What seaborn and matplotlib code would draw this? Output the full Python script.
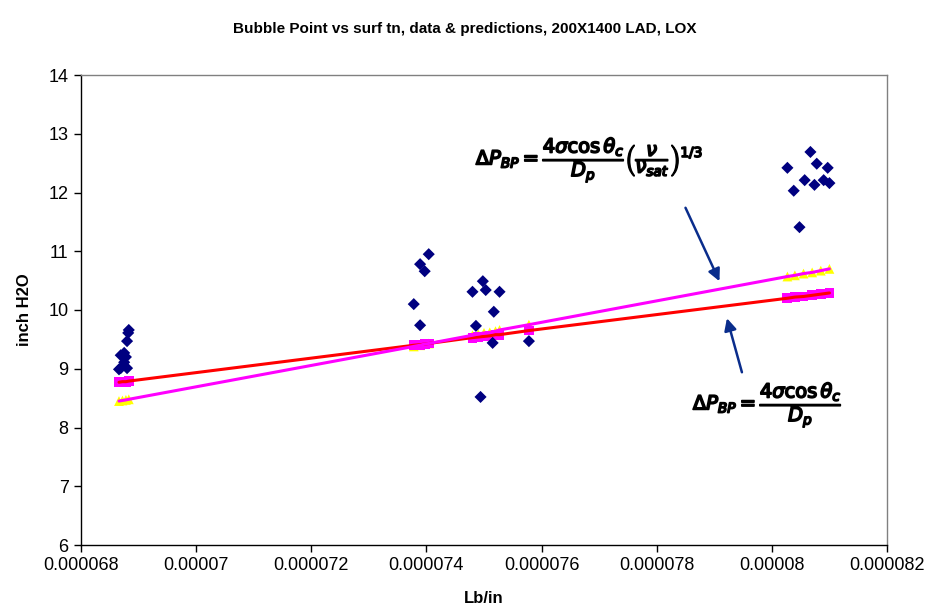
import matplotlib
matplotlib.use("Agg")
import matplotlib.pyplot as plt
import matplotlib.patheffects as pe
from matplotlib.ticker import FixedLocator, FixedFormatter
import seaborn as sns
import pandas as pd

sns.set_theme(style="white")
plt.rcParams['font.family'] = ['Liberation Sans', 'DejaVu Sans']
plt.rcParams['text.color'] = 'black'
plt.rcParams['axes.labelcolor'] = 'black'
plt.rcParams['xtick.color'] = 'black'
plt.rcParams['ytick.color'] = 'black'

# measured data (surface tension lb/in, bubble point inch H2O)
data_x = [0.00006883, 0.00006880, 0.00006875, 0.00006869, 0.00006878, 0.00006875,
          0.00006869, 0.00006880, 0.00006866, 0.00006882,
          0.00007404, 0.00007389, 0.00007397, 0.00007378, 0.00007389,
          0.00007498, 0.00007480, 0.00007503, 0.00007527, 0.00007517, 0.00007486,
          0.00007515, 0.00007578, 0.00007494,
          0.00008067, 0.00008027, 0.00008078, 0.00008097, 0.00008057, 0.00008074,
          0.00008090, 0.00008100, 0.00008038, 0.00008048]
data_y = [9.66, 9.47, 9.27, 9.23, 9.20, 9.11, 9.01, 9.01, 8.99, 9.61,
          10.95, 10.78, 10.66, 10.10, 9.74,
          10.49, 10.31, 10.34, 10.31, 9.97, 9.73, 9.44, 9.47, 8.52,
          12.69, 12.42, 12.49, 12.42, 12.21, 12.13, 12.21, 12.16, 12.03, 11.41]

# predictions
pred_x = [0.00006866, 0.00006872, 0.00006878, 0.00006883,
          0.00007378, 0.00007389, 0.00007397, 0.00007404,
          0.00007480, 0.00007490, 0.00007500, 0.00007510, 0.00007520, 0.00007527, 0.00007578,
          0.00008027, 0.00008040, 0.00008055, 0.00008070, 0.00008085, 0.00008100]
pred_simple = [8.77, 8.78, 8.78, 8.79,
               9.40, 9.41, 9.42, 9.43,
               9.53, 9.54, 9.55, 9.56, 9.58, 9.58, 9.65,
               10.20, 10.22, 10.23, 10.25, 10.27, 10.29]
pred_visc = [8.45, 8.46, 8.47, 8.48,
             9.38, 9.40, 9.42, 9.43,
             9.57, 9.59, 9.61, 9.62, 9.64, 9.66, 9.75,
             10.57, 10.59, 10.62, 10.64, 10.67, 10.70]

x_ticks = [0.000068, 0.000070, 0.000072, 0.000074, 0.000076, 0.000078, 0.000080, 0.000082]
x_tick_labels = ["0.000068", "0.00007", "0.000072", "0.000074", "0.000076", "0.000078",
                 "0.00008", "0.000082"]
y_ticks = [6, 7, 8, 9, 10, 11, 12, 13, 14]

df_data = pd.DataFrame({"x": data_x, "y": data_y})
df_pred = pd.DataFrame({"x": pred_x, "simple": pred_simple, "visc": pred_visc})

fig = plt.figure(figsize=(9.3, 6.13), dpi=100)
ax = fig.add_axes([81/930, 1-545/613, (887-81)/930, (545-75)/613])

# prediction markers
sns.scatterplot(data=df_pred, x="x", y="visc", marker="^", color="#FFFF00", s=50,
                edgecolor="none", ax=ax, zorder=2)
sns.scatterplot(data=df_pred, x="x", y="simple", marker="s", color="#FF00FF", s=50,
                edgecolor="none", ax=ax, zorder=2)
# prediction lines
sns.lineplot(data=df_pred, x="x", y="simple", color="#FF0000", lw=2.2, ax=ax,
             estimator=None, sort=True, zorder=3)
sns.lineplot(data=df_pred, x="x", y="visc", color="#FF00FF", lw=2.2, ax=ax,
             estimator=None, sort=True, zorder=3)
# data
sns.scatterplot(data=df_data, x="x", y="y", marker="D", color="#000080", s=38,
                edgecolor="none", ax=ax, zorder=4)

ax.set_xlim(0.000068, 0.000082)
ax.set_ylim(6, 14)
ax.xaxis.set_major_locator(FixedLocator(x_ticks))
ax.xaxis.set_major_formatter(FixedFormatter(x_tick_labels))
ax.yaxis.set_major_locator(FixedLocator(y_ticks))
ax.tick_params(axis="both", which="major", direction="out", length=5, width=1,
               color="black", labelsize=13, bottom=True, left=True, pad=4)
for s in ["left", "bottom"]:
    ax.spines[s].set_color("black")
    ax.spines[s].set_linewidth(1)
for s in ["top", "right"]:
    ax.spines[s].set_color("#808080")
    ax.spines[s].set_linewidth(1)

ax.set_xlabel("Lb/in", fontsize=12, fontweight="bold", labelpad=12)
ax.set_ylabel("inch H2O", fontsize=12, fontweight="bold", labelpad=12)
fig.suptitle("Bubble Point vs surf tn, data & predictions, 200X1400 LAD, LOX",
             fontsize=11, fontweight="bold", y=1-22/613)

bold = [pe.withStroke(linewidth=1.2, foreground="black")]
ax.text(0.00007684, 12.55,
        r"$\Delta P_{BP} = \dfrac{4\sigma \cos\theta_c}{D_p}\left(\dfrac{\nu}{\nu_{sat}}\right)^{1/3}$",
        fontsize=14, ha="center", va="center", color="black", path_effects=bold)
ax.text(0.00007993, 8.38,
        r"$\Delta P_{BP} = \dfrac{4\sigma \cos\theta_c}{D_p}$",
        fontsize=14, ha="center", va="center", color="black", path_effects=bold)

arrow_col = "#0A2D8C"
ax.annotate("", xy=(0.00007909, 10.49), xytext=(0.00007850, 11.74),
            arrowprops=dict(arrowstyle="-|>", color=arrow_col, lw=1.8,
                            mutation_scale=18, shrinkA=0, shrinkB=0))
ax.annotate("", xy=(0.00007922, 9.86), xytext=(0.00007948, 8.94),
            arrowprops=dict(arrowstyle="-|>", color=arrow_col, lw=1.8,
                            mutation_scale=18, shrinkA=0, shrinkB=0))

fig.savefig("out.png", dpi=100, facecolor="white")
